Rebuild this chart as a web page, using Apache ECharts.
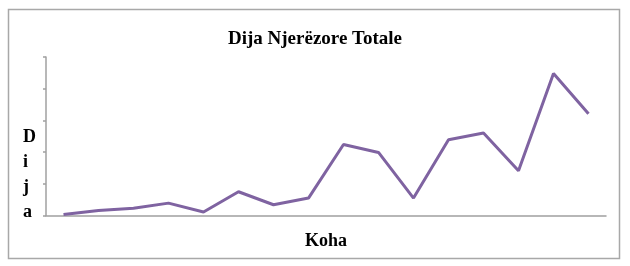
<!DOCTYPE html>
<html>
<head>
<meta charset="utf-8">
<script src="https://cdn.jsdelivr.net/npm/echarts@6/dist/echarts.min.js"></script>
<style>
html,body{margin:0;padding:0;background:#fff;}
#c{width:630px;height:266px;}
</style>
</head>
<body>
<div id="c"></div>
<script>
var titleText = 'Dija Njerëzore Totale';
var xTitle = 'Koha';
var yTitle = 'D\ni\nj\na';
var categories = ['1','2','3','4','5','6','7','8','9','10','11','12','13','14','15','16'];
var values = [0.03, 0.16, 0.23, 0.39, 0.11, 0.75, 0.34, 0.55, 2.24, 1.99, 0.55, 2.39, 2.60, 1.41, 4.48, 3.21];

var chart = echarts.init(document.getElementById('c'), null, {renderer: 'canvas'});
var serif = '"Liberation Serif", "Times New Roman", serif';
chart.setOption({
  animation: false,
  backgroundColor: '#ffffff',
  title: {
    text: titleText,
    left: 'center',
    top: 25,
    textStyle: {fontFamily: serif, fontWeight: 'bold', fontSize: 19, color: '#000'}
  },
  grid: {left: 46, right: 24, top: 57, bottom: 50.5, containLabel: false},
  xAxis: {
    type: 'category',
    data: categories,
    boundaryGap: true,
    name: xTitle,
    nameLocation: 'middle',
    nameGap: 17,
    nameTextStyle: {fontFamily: serif, fontWeight: 'bold', fontSize: 18, color: '#000', verticalAlign: 'top'},
    axisLine: {lineStyle: {color: '#a0a0a0', width: 1.5}},
    axisTick: {show: false},
    axisLabel: {show: false},
    splitLine: {show: false}
  },
  yAxis: {
    type: 'value',
    min: 0, max: 5, interval: 1,
    axisLine: {show: true, lineStyle: {color: '#a0a0a0', width: 1.5}},
    axisTick: {show: true, length: 3, lineStyle: {color: '#a0a0a0', width: 1.5}},
    axisLabel: {show: false},
    splitLine: {show: false}
  },
  graphic: [
    {
      type: 'rect',
      shape: {x: 8.5, y: 9.5, width: 611, height: 249},
      style: {fill: 'none', stroke: '#a8a8a8', lineWidth: 1.5},
      silent: true, z: -1
    },
    {
      type: 'text',
      left: 23,
      top: 125,
      style: {
        text: yTitle,
        fontFamily: serif, fontWeight: 'bold', fontSize: 18,
        lineHeight: 25, fill: '#000', align: 'center'
      }
    }
  ],
  series: [{
    type: 'line',
    data: values,
    symbol: 'none',
    lineStyle: {color: '#7f63a1', width: 3},
    itemStyle: {color: '#7f63a1'}
  }]
});
</script>
</body>
</html>
